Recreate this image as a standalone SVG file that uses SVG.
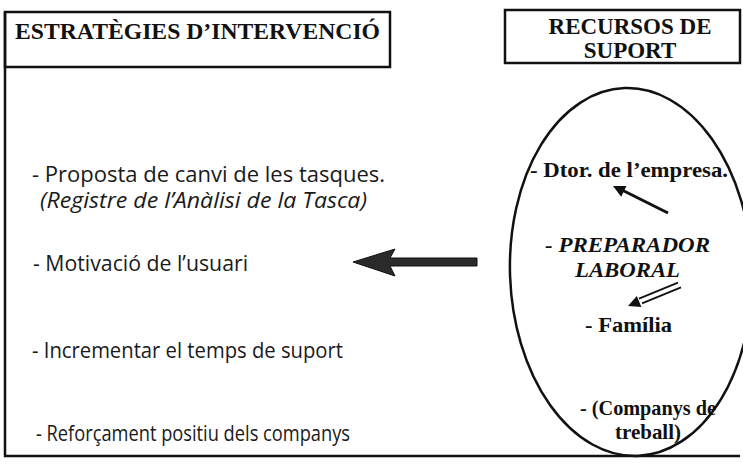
<svg xmlns="http://www.w3.org/2000/svg" width="743" height="470" viewBox="0 0 743 470">
<style>
.box{fill:none;stroke:#111;stroke-width:2.5}
.hdr{font-family:"Liberation Serif","Times New Roman",serif;font-weight:bold;font-size:23px;fill:#111}
.lt{font-family:"Open Sans","DejaVu Sans",sans-serif;font-size:21px;fill:#1a1a1a}
.rt{font-family:"Liberation Serif","Times New Roman",serif;font-weight:bold;font-size:22px;fill:#111}
.ln{stroke:#111;fill:none}
</style>
<rect width="743" height="470" fill="#fff"/>
<g id="frame">
<path class="box" d="M5,12 V456 H740"/>
</g>
<g id="estrategies">
<rect class="box" x="5" y="12" width="385" height="55"/>
<text class="hdr" x="15" y="39" textLength="365" lengthAdjust="spacingAndGlyphs">ESTRATÈGIES D’INTERVENCIÓ</text>
<text class="lt" x="32" y="182" textLength="353" lengthAdjust="spacingAndGlyphs">- Proposta de canvi de les tasques.</text>
<text class="lt" x="40" y="208" font-style="italic" textLength="327" lengthAdjust="spacingAndGlyphs">(Registre de l’Anàlisi de la Tasca)</text>
<text class="lt" x="33" y="271" textLength="215" lengthAdjust="spacingAndGlyphs">- Motivació de l’usuari</text>
<text class="lt" x="32" y="358" textLength="311" lengthAdjust="spacingAndGlyphs">- Incrementar el temps de suport</text>
<text class="lt" x="36" y="441" textLength="314" lengthAdjust="spacingAndGlyphs">- Reforçament positiu dels companys</text>
</g>
<g id="recursos">
<rect class="box" x="505" y="10" width="235" height="53"/>
<text class="hdr" x="630" y="34" text-anchor="middle">RECURSOS DE</text>
<text class="hdr" x="630" y="58" text-anchor="middle">SUPORT</text>
</g>
<g id="suport">
<ellipse cx="631" cy="272" rx="121" ry="184" transform="rotate(-2 631 272)" fill="none" stroke="#111" stroke-width="2.5"/>
<text class="rt" x="530" y="177" textLength="198" lengthAdjust="spacingAndGlyphs">- Dtor. de l’empresa.</text>
<text class="rt" x="545" y="252" font-style="italic" textLength="165" lengthAdjust="spacingAndGlyphs">- PREPARADOR</text>
<text class="rt" x="575" y="277" font-style="italic" textLength="105" lengthAdjust="spacingAndGlyphs">LABORAL</text>
<text class="rt" x="585" y="332" textLength="87" lengthAdjust="spacingAndGlyphs">- Família</text>
<text class="rt" x="580" y="415" textLength="136" lengthAdjust="spacingAndGlyphs">- (Companys de</text>
<text class="rt" x="615" y="439" textLength="66" lengthAdjust="spacingAndGlyphs">treball)</text>
</g>
<g id="connectors">
<path d="M353,262 L395,249 L390,258 L477,258 L477,266 L390,266 L395,276 Z" fill="#2a2a2a" stroke="#111" stroke-width="1"/>
<line class="ln" x1="668" y1="213" x2="622" y2="190" stroke-width="3"/>
<polygon points="613,186 626.4,185.9 621.2,196.7" fill="#111"/>
<line class="ln" x1="678" y1="282.7" x2="639" y2="298.7" stroke-width="1.8"/>
<line class="ln" x1="681" y1="287.3" x2="642" y2="303.3" stroke-width="1.8"/>
<polygon points="628,306 641.4,306.9 636.8,295.9" fill="#111"/>
</g>
</svg>
